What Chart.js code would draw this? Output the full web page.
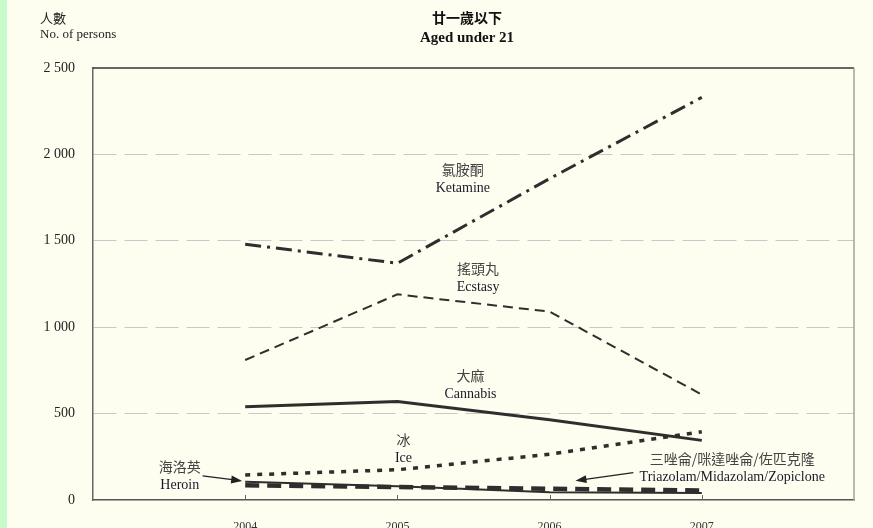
<!DOCTYPE html>
<html>
<head>
<meta charset="utf-8">
<script src="https://cdn.jsdelivr.net/npm/chart.js@4/dist/chart.umd.min.js"></script>
<style>
  html, body { margin: 0; padding: 0; background: #fdfdf0; }
  canvas { display: block; }
</style>
</head>
<body>
<canvas id="chart" width="873" height="528"></canvas>
<script>
  // Data (persons aged under 21)
  const years = [2004, 2005, 2006, 2007];
  const ketamine = [1480, 1370, 1860, 2330];
  const ecstasy = [810, 1190, 1090, 610];
  const cannabis = [540, 570, 465, 345];
  const ice = [145, 175, 265, 395];
  const heroin = [105, 80, 45, 40];
  const triazolam = [85, 75, 65, 55];
  const yTicks = [0, 500, 1000, 1500, 2000, 2500];

  const serif = '"Liberation Serif", "Times New Roman", "Noto Sans CJK TC", serif';
  const cjk = '"Noto Sans CJK TC", "Liberation Serif", serif';
  const ink = '#2e2e2e';

  // Helper: pair the years with a series
  function points(values) {
    return years.map((yr, i) => ({ x: yr, y: values[i] }));
  }

  // Helper: "2 500" style thousands
  function formatCount(v) {
    if (v < 1000) return String(v);
    return Math.floor(v / 1000) + ' ' + String(v % 1000).padStart(3, '0');
  }

  // Series labels placed in data coordinates (year, value)
  const seriesLabels = [
    { zh: '氯胺酮', en: 'Ketamine', x: 2005.43, y: 1910 },
    { zh: '搖頭丸', en: 'Ecstasy', x: 2005.53, y: 1337 },
    { zh: '大麻', en: 'Cannabis', x: 2005.48, y: 718 },
    { zh: '冰', en: 'Ice', x: 2005.04, y: 347 },
    { zh: '海洛英', en: 'Heroin', x: 2003.57, y: 191 },
    { zh: '三唑侖/咪達唑侖/佐匹克隆', en: 'Triazolam/Midazolam/Zopiclone', x: 2007.2, y: 237 }
  ];

  // Pointer arrows: from (year, value) to (year, value)
  const arrows = [
    { from: [2003.72, 140], to: [2003.98, 110] },
    { from: [2006.55, 158], to: [2006.17, 112] }
  ];

  function drawArrow(ctx, x1, y1, x2, y2) {
    const ang = Math.atan2(y2 - y1, x2 - x1);
    ctx.beginPath();
    ctx.moveTo(x1, y1);
    ctx.lineTo(x2 - 8 * Math.cos(ang), y2 - 8 * Math.sin(ang));
    ctx.stroke();
    ctx.beginPath();
    ctx.moveTo(x2, y2);
    ctx.lineTo(x2 - 11 * Math.cos(ang) + 4 * Math.sin(ang), y2 - 11 * Math.sin(ang) - 4 * Math.cos(ang));
    ctx.lineTo(x2 - 11 * Math.cos(ang) - 4 * Math.sin(ang), y2 - 11 * Math.sin(ang) + 4 * Math.cos(ang));
    ctx.closePath();
    ctx.fill();
  }

  const decorations = {
    id: 'decorations',
    beforeDraw(chart) {
      const ctx = chart.ctx;
      ctx.save();
      ctx.fillStyle = '#fdfdf0';
      ctx.fillRect(0, 0, chart.width, chart.height);
      ctx.fillStyle = '#c8fbc9';
      ctx.fillRect(0, 0, 7, chart.height);
      ctx.restore();
    },
    afterDraw(chart) {
      const ctx = chart.ctx;
      const area = chart.chartArea;
      const xs = chart.scales.x, ys = chart.scales.y;
      ctx.save();

      // frame: top and right edges
      ctx.strokeStyle = '#333';
      ctx.lineWidth = 1.5;
      ctx.beginPath();
      ctx.moveTo(area.left, area.top);
      ctx.lineTo(area.right, area.top);
      ctx.stroke();
      ctx.strokeStyle = '#a0a0a0';
      ctx.beginPath();
      ctx.moveTo(area.right, area.top);
      ctx.lineTo(area.right, area.bottom);
      ctx.stroke();

      // small upward tick marks on the x axis
      ctx.strokeStyle = '#666';
      ctx.lineWidth = 1;
      years.forEach(yr => {
        const px = Math.round(xs.getPixelForValue(yr)) + 0.5;
        ctx.beginPath();
        ctx.moveTo(px, area.bottom);
        ctx.lineTo(px, area.bottom - 5);
        ctx.stroke();
      });

      // titles
      ctx.fillStyle = '#111';
      ctx.textAlign = 'center';
      ctx.textBaseline = 'middle';
      ctx.font = 'bold 14px ' + cjk;
      ctx.fillText('廿一歲以下', 467, 18);
      ctx.font = 'bold 15px ' + serif;
      ctx.fillText('Aged under 21', 467, 38);

      // y axis title
      ctx.textAlign = 'left';
      ctx.fillStyle = '#222';
      ctx.font = '13px ' + cjk;
      ctx.fillText('人數', 40, 18);
      ctx.font = '13px ' + serif;
      ctx.fillText('No. of persons', 40, 35);

      // series labels
      ctx.textAlign = 'center';
      seriesLabels.forEach(l => {
        const px = xs.getPixelForValue(l.x);
        const py = ys.getPixelForValue(l.y);
        ctx.fillStyle = '#444';
        ctx.font = '14px ' + cjk;
        ctx.fillText(l.zh, px, py);
        ctx.fillStyle = '#1a1a2a';
        ctx.font = '14px ' + serif;
        ctx.fillText(l.en, px, py + 18);
      });

      // arrows
      ctx.strokeStyle = '#222';
      ctx.fillStyle = '#222';
      ctx.lineWidth = 1.2;
      arrows.forEach(a => {
        drawArrow(ctx,
          xs.getPixelForValue(a.from[0]), ys.getPixelForValue(a.from[1]),
          xs.getPixelForValue(a.to[0]), ys.getPixelForValue(a.to[1]));
      });
      ctx.restore();
    }
  };

  function series(label, values, width, dash) {
    return {
      label: label,
      data: points(values),
      borderColor: ink,
      borderWidth: width,
      borderDash: dash,
      pointRadius: 0,
      fill: false,
      tension: 0
    };
  }

  new Chart(document.getElementById('chart'), {
    type: 'line',
    data: {
      datasets: [
        series('Ketamine', ketamine, 3, [16, 6, 3, 6]),
        series('Ecstasy', ecstasy, 2, [10, 6]),
        series('Cannabis', cannabis, 3, []),
        series('Ice', ice, 3.5, [5, 7]),
        series('Triazolam/Midazolam/Zopiclone', triazolam, 4.5, [14, 8]),
        series('Heroin', heroin, 2, [])
      ]
    },
    options: {
      responsive: false,
      animation: false,
      devicePixelRatio: 1,
      layout: { padding: { top: 68, right: 19, left: 0, bottom: 0 } },
      plugins: {
        legend: { display: false },
        tooltip: { enabled: false }
      },
      scales: {
        x: {
          type: 'linear',
          min: 2003,
          max: 2008,
          afterBuildTicks: scale => { scale.ticks = years.map(v => ({ value: v })); },
          afterFit: scale => { scale.height = 28; },
          ticks: {
            callback: v => String(v),
            font: { family: serif, size: 12 },
            color: '#333',
            padding: 20,
            maxRotation: 0
          },
          grid: { display: false, drawTicks: false },
          border: { display: true, color: '#555', width: 1.5 }
        },
        y: {
          min: 0,
          max: 2500,
          afterBuildTicks: scale => { scale.ticks = yTicks.map(v => ({ value: v })); },
          afterFit: scale => { scale.width = 93; },
          ticks: {
            callback: v => formatCount(v),
            font: { family: serif, size: 14 },
            color: '#222',
            padding: 18
          },
          grid: {
            drawTicks: false,
            color: c => (c.tick && (c.tick.value === 0 || c.tick.value === 2500)) ? 'rgba(0,0,0,0)' : '#c8c8c8',
            lineWidth: 1
          },
          border: { display: true, color: '#666', width: 1.5, dash: [23, 8] }
        }
      }
    },
    plugins: [decorations]
  });
</script>
</body>
</html>
